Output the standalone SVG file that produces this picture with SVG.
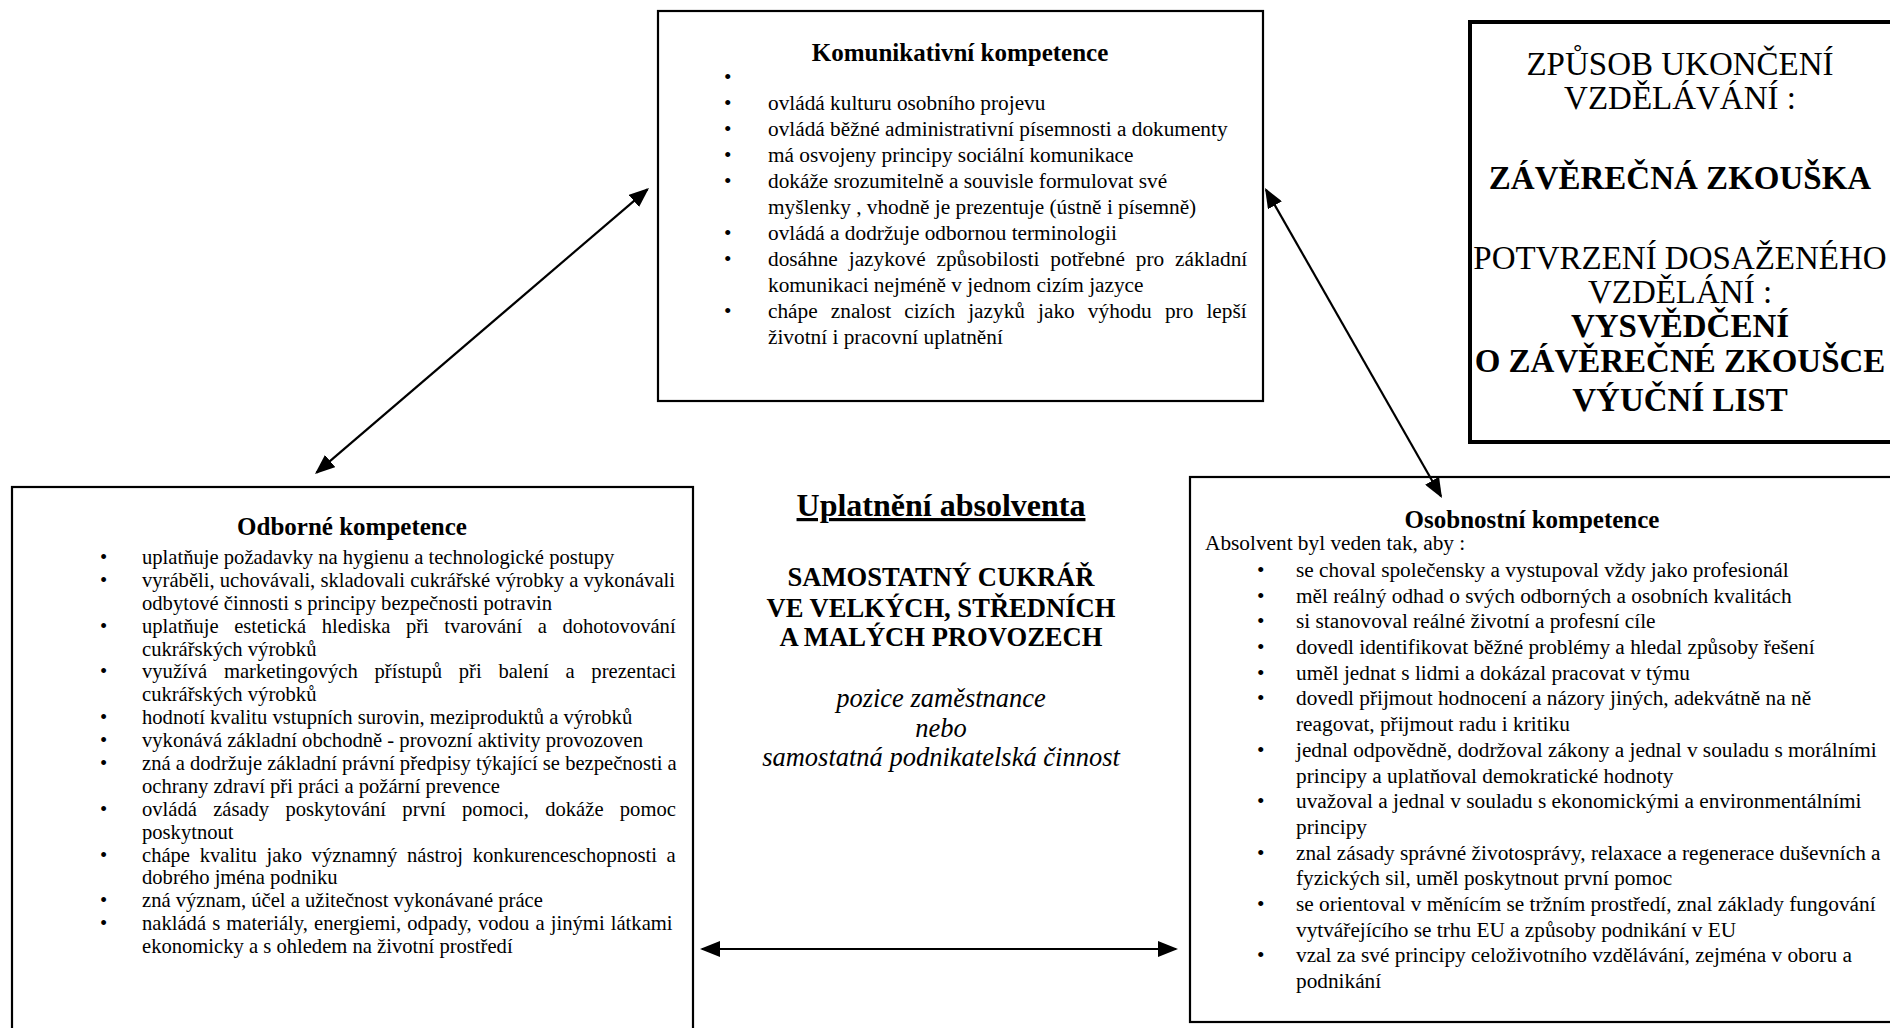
<svg xmlns="http://www.w3.org/2000/svg" width="1890" height="1028" viewBox="0 0 1890 1028">
<style>
.t{font-family:"Liberation Serif","Times New Roman",serif;fill:#000}
.b{font-size:21.3px}
.o{font-size:20.6px}
.h{font-size:25px;font-weight:bold;text-anchor:middle}
.box{fill:#fff;stroke:#000;stroke-width:2.2}
.c{text-anchor:middle}
.con{stroke:#000;stroke-width:2.2;fill:none;marker-start:url(#ah);marker-end:url(#ah)}
</style>
<defs>
<marker id="ah" viewBox="0 0 20 16" refX="18" refY="8" markerWidth="20" markerHeight="16" markerUnits="userSpaceOnUse" orient="auto-start-reverse">
<path d="M0,0 L20,8 L0,16 z" fill="#000"/>
</marker>
</defs>
<rect width="1890" height="1028" fill="#fff"/>

<g id="komunikativni">
<rect class="box" x="658" y="11" width="605" height="390"/>
<text class="t h" x="960" y="61">Komunikativní kompetence</text>
<g class="t b">
<text x="724" y="84">•</text>
<text x="724" y="110">•</text><text x="768" y="110">ovládá kulturu osobního projevu</text>
<text x="724" y="136">•</text><text x="768" y="136">ovládá běžné administrativní písemnosti a dokumenty</text>
<text x="724" y="162">•</text><text x="768" y="162">má osvojeny principy sociální komunikace</text>
<text x="724" y="188">•</text><text x="768" y="188">dokáže srozumitelně a souvisle formulovat své</text>
<text x="768" y="214">myšlenky , vhodně je prezentuje (ústně i písemně)</text>
<text x="724" y="240">•</text><text x="768" y="240">ovládá a dodržuje odbornou terminologii</text>
<text x="724" y="266">•</text><text x="768" y="266" word-spacing="5.6">dosáhne jazykové způsobilosti potřebné pro základní</text>
<text x="768" y="292">komunikaci nejméně v jednom cizím jazyce</text>
<text x="724" y="318">•</text><text x="768" y="318" word-spacing="7.8">chápe znalost cizích jazyků jako výhodu pro lepší</text>
<text x="768" y="344">životní i pracovní uplatnění</text>
</g>
</g>

<g id="zpusob">
<rect x="1470" y="22" width="440" height="420" fill="#fff" stroke="#000" stroke-width="4"/>
<g class="t c" font-size="33">
<text x="1680" y="75">ZPŮSOB UKONČENÍ</text>
<text x="1680" y="109">VZDĚLÁVÁNÍ :</text>
<text x="1680" y="189" font-weight="bold">ZÁVĚREČNÁ ZKOUŠKA</text>
<text x="1680" y="269">POTVRZENÍ DOSAŽENÉHO</text>
<text x="1680" y="303">VZDĚLÁNÍ :</text>
<text x="1680" y="337" font-weight="bold">VYSVĚDČENÍ</text>
<text x="1680" y="372" font-weight="bold">O ZÁVĚREČNÉ ZKOUŠCE</text>
<text x="1680" y="411" font-weight="bold">VÝUČNÍ LIST</text>
</g>
</g>

<g id="odborne">
<rect class="box" x="12" y="487" width="681" height="560"/>
<text class="t h" x="352" y="535">Odborné kompetence</text>
<g class="t o">
<text x="100" y="564">•</text><text x="142" y="564">uplatňuje požadavky na hygienu a technologické postupy</text>
<text x="100" y="587">•</text><text x="142" y="587">vyráběli, uchovávali, skladovali cukrářské výrobky a vykonávali</text>
<text x="142" y="610">odbytové činnosti s principy bezpečnosti potravin</text>
<text x="100" y="633">•</text><text x="142" y="633" word-spacing="10.4">uplatňuje estetická hlediska při tvarování a dohotovování</text>
<text x="142" y="656">cukrářských výrobků</text>
<text x="100" y="678">•</text><text x="142" y="678" word-spacing="11.6">využívá marketingových přístupů při balení a prezentaci</text>
<text x="142" y="701">cukrářských výrobků</text>
<text x="100" y="724">•</text><text x="142" y="724">hodnotí kvalitu vstupních surovin, meziproduktů a výrobků</text>
<text x="100" y="747">•</text><text x="142" y="747">vykonává základní obchodně - provozní aktivity provozoven</text>
<text x="100" y="770">•</text><text x="142" y="770">zná a dodržuje základní právní předpisy týkající se bezpečnosti a</text>
<text x="142" y="793">ochrany zdraví při práci a požární prevence</text>
<text x="100" y="816">•</text><text x="142" y="816" word-spacing="11.1">ovládá zásady poskytování první pomoci, dokáže pomoc</text>
<text x="142" y="839">poskytnout</text>
<text x="100" y="862">•</text><text x="142" y="862" word-spacing="4.5">chápe kvalitu jako významný nástroj konkurenceschopnosti a</text>
<text x="142" y="884">dobrého jména podniku</text>
<text x="100" y="907">•</text><text x="142" y="907">zná význam, účel a užitečnost vykonávané práce</text>
<text x="100" y="930">•</text><text x="142" y="930" word-spacing="1">nakládá s materiály, energiemi, odpady, vodou a jinými látkami</text>
<text x="142" y="953">ekonomicky a s ohledem na životní prostředí</text>
</g>
</g>

<g id="uplatneni">
<text class="t c" x="941" y="516" font-size="32" font-weight="bold" text-decoration="underline">Uplatnění absolventa</text>
<g class="t c" font-size="26.6" font-weight="bold">
<text x="941" y="586">SAMOSTATNÝ CUKRÁŘ</text>
<text x="941" y="617">VE VELKÝCH, STŘEDNÍCH</text>
<text x="941" y="646">A MALÝCH PROVOZECH</text>
</g>
<g class="t c" font-size="26.5" font-style="italic">
<text x="941" y="707">pozice zaměstnance</text>
<text x="941" y="737">nebo</text>
<text x="941" y="766">samostatná podnikatelská činnost</text>
</g>
</g>

<g id="osobnostni">
<rect class="box" x="1190" y="477" width="720" height="545"/>
<text class="t h" x="1532" y="528">Osobnostní kompetence</text>
<g class="t b">
<text x="1205" y="550">Absolvent byl veden tak, aby :</text>
<text x="1257" y="577">•</text><text x="1296" y="577">se choval společensky a vystupoval vždy jako profesionál</text>
<text x="1257" y="603">•</text><text x="1296" y="603">měl reálný odhad o svých odborných a osobních kvalitách</text>
<text x="1257" y="628">•</text><text x="1296" y="628">si stanovoval reálné životní a profesní cíle</text>
<text x="1257" y="654">•</text><text x="1296" y="654">dovedl identifikovat běžné problémy a hledal způsoby řešení</text>
<text x="1257" y="680">•</text><text x="1296" y="680">uměl jednat s lidmi a dokázal pracovat v týmu</text>
<text x="1257" y="705">•</text><text x="1296" y="705">dovedl přijmout hodnocení a názory jiných, adekvátně na ně</text>
<text x="1296" y="731">reagovat, přijmout radu i kritiku</text>
<text x="1257" y="757">•</text><text x="1296" y="757">jednal odpovědně, dodržoval zákony a jednal v souladu s morálními</text>
<text x="1296" y="783">principy a uplatňoval demokratické hodnoty</text>
<text x="1257" y="808">•</text><text x="1296" y="808">uvažoval a jednal v souladu s ekonomickými a environmentálními</text>
<text x="1296" y="834">principy</text>
<text x="1257" y="860">•</text><text x="1296" y="860">znal zásady správné životosprávy, relaxace a regenerace duševních a</text>
<text x="1296" y="885">fyzických sil, uměl poskytnout první pomoc</text>
<text x="1257" y="911">•</text><text x="1296" y="911">se orientoval v měnícím se tržním prostředí, znal základy fungování</text>
<text x="1296" y="937">vytvářejícího se trhu EU a způsoby podnikání v EU</text>
<text x="1257" y="962">•</text><text x="1296" y="962">vzal za své principy celoživotního vzdělávání, zejména v oboru a</text>
<text x="1296" y="988">podnikání</text>
</g>
</g>

<g id="connectors">
<line class="con" x1="316.5" y1="472.7" x2="647.5" y2="189.3"/>
<line class="con" x1="1266" y1="189.7" x2="1441" y2="496.3"/>
<line class="con" x1="702" y1="949" x2="1176" y2="949"/>
</g>
</svg>
